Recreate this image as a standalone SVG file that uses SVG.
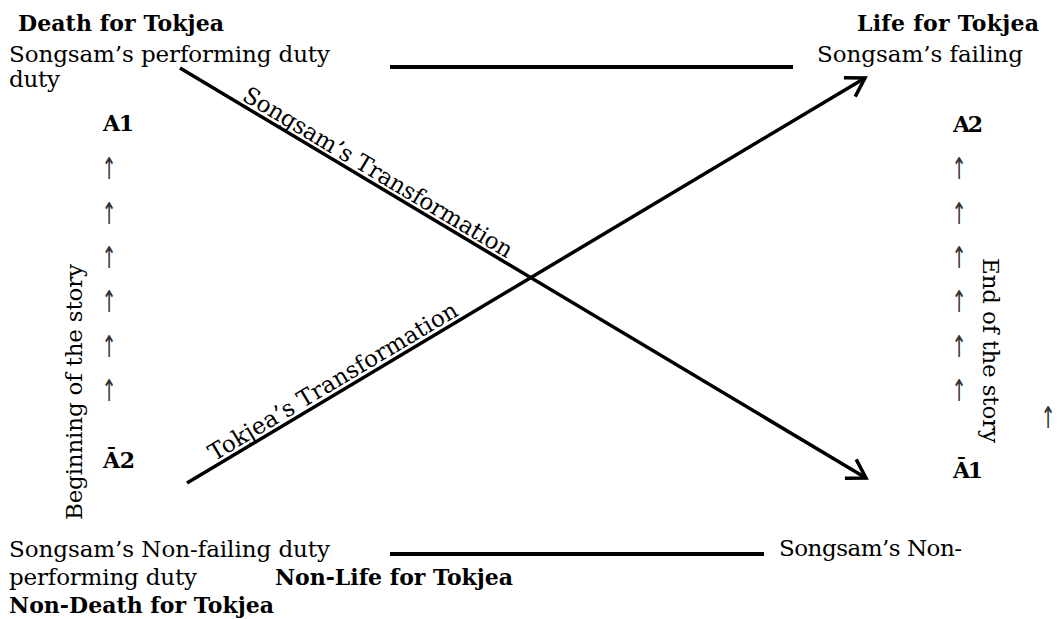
<svg xmlns="http://www.w3.org/2000/svg" width="1057" height="619" viewBox="0 0 1057 619">
<style>
.t{font-family:"DejaVu Serif","Liberation Serif",serif;font-size:23px;fill:#000}
.b{font-family:"DejaVu Serif","Liberation Serif",serif;font-size:22px;font-weight:bold;fill:#000}
.ar{font-family:"DejaVu Sans","Liberation Sans",sans-serif;font-size:30px;fill:#333;text-anchor:middle}
.ln{stroke:#000;stroke-width:4;fill:none}
.dg{stroke:#000;stroke-width:3.5;fill:none}
</style>
<defs>
<marker id="chev" markerUnits="userSpaceOnUse" markerWidth="40" markerHeight="40" viewBox="-25 -20 40 40" refX="0" refY="0" orient="auto" overflow="visible">
<path d="M-18,-11 L0,0 L-18,11" fill="none" stroke="#000" stroke-width="3.5" stroke-linejoin="miter"/>
</marker>
</defs>
<rect width="1057" height="619" fill="#fff"/>
<g id="connectors">
<line class="ln" x1="390" y1="67" x2="793" y2="67"/>
<line class="ln" x1="390" y1="554" x2="764" y2="554"/>
<line class="dg" x1="180" y1="68" x2="866" y2="478" marker-end="url(#chev)"/>
<line class="dg" x1="187" y1="483" x2="865" y2="78" marker-end="url(#chev)"/>
<text class="t" text-anchor="middle" textLength="310" transform="translate(374,179) rotate(30.9)">Songsam’s Transformation</text>
<text class="t" text-anchor="middle" textLength="286" transform="translate(337,388) rotate(-30.9)">Tokjea’s Transformation</text>
</g>
<g id="top-left">
<text class="b" x="18" y="31" textLength="206">Death for Tokjea</text>
<text class="t" x="9" y="62" textLength="321">Songsam’s performing duty</text>
<text class="t" x="9" y="87" textLength="51">duty</text>
</g>
<g id="top-right">
<text class="b" x="857" y="31" textLength="182">Life for Tokjea</text>
<text class="t" x="817" y="62" textLength="206">Songsam’s failing</text>
</g>
<g id="bottom-left">
<text class="t" x="9" y="557" textLength="321">Songsam’s Non-failing duty</text>
<text class="t" x="9" y="585" textLength="188">performing duty</text>
<text class="b" x="275" y="585" textLength="238">Non-Life for Tokjea</text>
<text class="b" x="9" y="613" textLength="265">Non-Death for Tokjea</text>
</g>
<g id="bottom-right">
<text class="t" x="779" y="556" textLength="183">Songsam’s Non-</text>
</g>
<g id="left-axis">
<text class="b" x="103" y="131" textLength="31">A1</text>
<text class="ar" transform="translate(109,179) scale(0.6,1)">↑</text>
<text class="ar" transform="translate(109,224) scale(0.6,1)">↑</text>
<text class="ar" transform="translate(109,268) scale(0.6,1)">↑</text>
<text class="ar" transform="translate(109,312) scale(0.6,1)">↑</text>
<text class="ar" transform="translate(109,357) scale(0.6,1)">↑</text>
<text class="ar" transform="translate(109,401) scale(0.6,1)">↑</text>
<text class="b" x="103" y="468" textLength="32">Ā2</text>
<text class="t" transform="translate(82,520) rotate(-90)" textLength="256">Beginning of the story</text>
</g>
<g id="right-axis">
<text class="b" x="953" y="132" textLength="30">A2</text>
<text class="ar" transform="translate(959,179) scale(0.6,1)">↑</text>
<text class="ar" transform="translate(959,224) scale(0.6,1)">↑</text>
<text class="ar" transform="translate(959,268) scale(0.6,1)">↑</text>
<text class="ar" transform="translate(959,312) scale(0.6,1)">↑</text>
<text class="ar" transform="translate(959,357) scale(0.6,1)">↑</text>
<text class="ar" transform="translate(959,401) scale(0.6,1)">↑</text>
<text class="b" x="953" y="478" textLength="30">Ā1</text>
<text class="t" transform="translate(983,258) rotate(90)" textLength="185">End of the story</text>
<text class="ar" transform="translate(1048,428) scale(0.6,1)">↑</text>
</g>
</svg>
